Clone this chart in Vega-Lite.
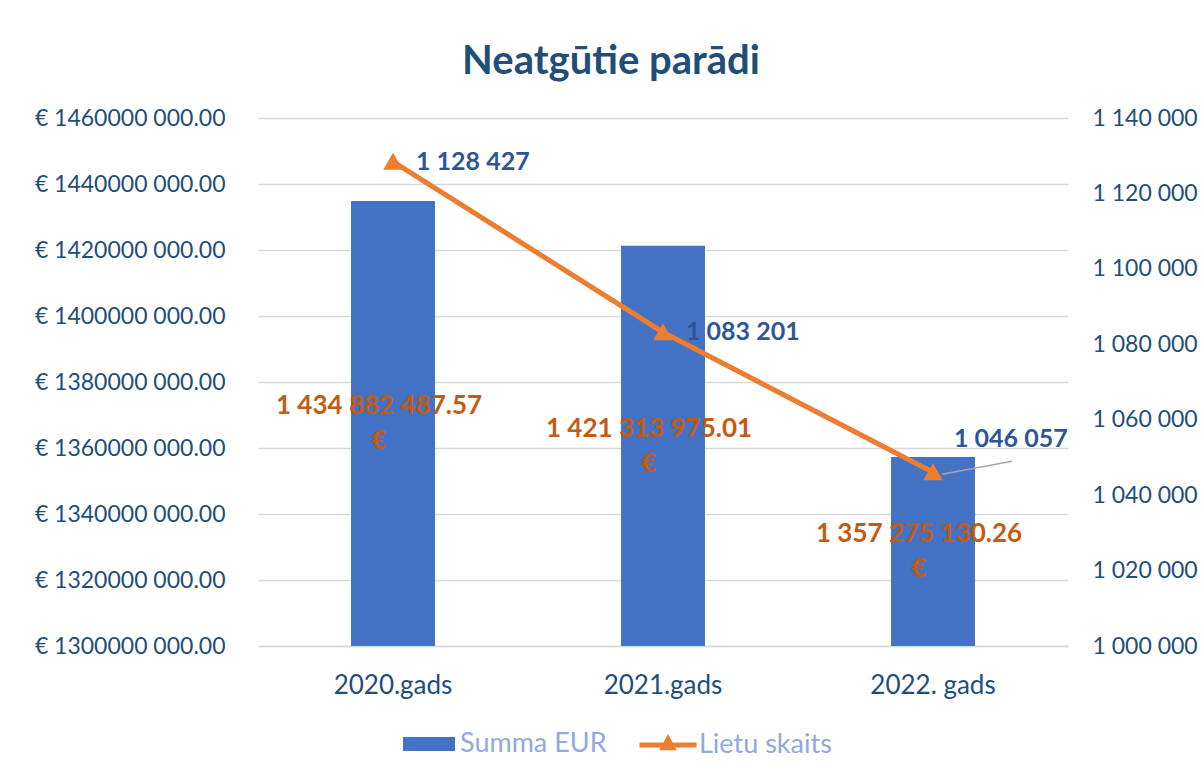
{
  "$schema": "https://vega.github.io/schema/vega-lite/v6.json",
  "width": 810,
  "height": 528,
  "autosize": {"type": "none"},
  "padding": {"left": 258, "top": 118, "right": 135, "bottom": 132},
  "background": "white",
  "config": {
    "font": "Lato",
    "view": {"stroke": null},
    "locale": {"number": {"decimal": ".", "thousands": " ", "grouping": [3], "currency": ["", ""]}}
  },
  "title": {
    "text": "Neatgūtie parādi",
    "fontSize": 40,
    "fontWeight": "bold",
    "color": "#1F4E79",
    "font": "Lato",
    "anchor": "middle",
    "dx": -52,
    "offset": 25
  },
  "data": {
    "values": [
      {"gads": "2020.gads", "summa": 1434882487.57, "lietas": 1128427},
      {"gads": "2021.gads", "summa": 1421313975.01, "lietas": 1083201},
      {"gads": "2022. gads", "summa": 1357275130.26, "lietas": 1046057}
    ]
  },
  "encoding": {
    "x": {
      "field": "gads",
      "type": "nominal",
      "sort": null,
      "scale": {"paddingInner": 0, "paddingOuter": 0},
      "axis": {
        "title": null,
        "labelAngle": 0,
        "labelFontSize": 26,
        "labelColor": "#1F4E79",
        "labelPadding": 26,
        "ticks": false,
        "domain": true,
        "domainColor": "#D9D9D9",
        "domainWidth": 1.5
      }
    }
  },
  "layer": [
    {
      "layer": [
        {
          "mark": {"type": "bar", "width": {"band": 0.311}, "clip": true},
          "encoding": {
            "y": {
              "field": "summa",
              "type": "quantitative",
              "scale": {"domain": [1300000000, 1460000000], "zero": false, "nice": false},
              "axis": {
                "title": null,
                "orient": "left",
                "values": [1300000000, 1320000000, 1340000000, 1360000000, 1380000000, 1400000000, 1420000000, 1440000000, 1460000000],
                "labelExpr": "'€ ' + format(datum.value / 1000, 'd') + ' 000.00'",
                "labelFontSize": 23,
                "labelLimit": 400,
                "labelColor": "#1F4E79",
                "labelPadding": 33,
                "ticks": false,
                "domain": false,
                "grid": true,
                "gridColor": "#D9D9D9",
                "gridWidth": 1.5
              }
            },
            "y2": {"datum": 1300000000},
            "fill": {
              "datum": "Summa EUR",
              "type": "nominal",
              "scale": {"domain": ["Summa EUR"], "range": ["#4472C4"]},
              "legend": {
                "orient": "none",
                "legendX": 145,
                "legendY": 600,
                "title": null,
                "symbolType": "M-1,-0.27H1V0.27H-1Z",
                "symbolSize": 2704,
                "symbolStrokeWidth": 0,
                "labelFontSize": 27,
                "labelColor": "#8FAADC",
                "labelOffset": 5,
                "padding": 0
              }
            }
          }
        },
        {
          "transform": [
            {"calculate": "(datum.summa + 1300000000) / 2", "as": "mid"},
            {"calculate": "[format(datum.summa, ',.2f'), '€']", "as": "lbl"}
          ],
          "mark": {
            "type": "text",
            "fontSize": 26,
            "fontWeight": "bold",
            "color": "#C55A11",
            "dx": -14,
            "dy": -17,
            "lineHeight": 35,
            "align": "center",
            "baseline": "middle"
          },
          "encoding": {
            "y": {
              "field": "mid",
              "type": "quantitative",
              "scale": {"domain": [1300000000, 1460000000], "zero": false, "nice": false},
              "axis": {
                "title": null,
                "orient": "left",
                "values": [1300000000, 1320000000, 1340000000, 1360000000, 1380000000, 1400000000, 1420000000, 1440000000, 1460000000],
                "labelExpr": "'€ ' + format(datum.value / 1000, 'd') + ' 000.00'",
                "labelFontSize": 23,
                "labelLimit": 400,
                "labelColor": "#1F4E79",
                "labelPadding": 33,
                "ticks": false,
                "domain": false,
                "grid": true,
                "gridColor": "#D9D9D9",
                "gridWidth": 1.5
              }
            },
            "text": {"field": "lbl"}
          }
        }
      ]
    },
    {
      "layer": [
        {
          "mark": {
            "type": "line",
            "strokeWidth": 5,
            "point": {"shape": "triangle-up", "filled": true, "size": 260, "color": "#ED7D31"}
          },
          "encoding": {
            "y": {
              "field": "lietas",
              "type": "quantitative",
              "scale": {"domain": [1000000, 1140000], "zero": false, "nice": false},
              "axis": {
                "title": null,
                "orient": "right",
                "values": [1000000, 1020000, 1040000, 1060000, 1080000, 1100000, 1120000, 1140000],
                "format": ",d",
                "labelFontSize": 23,
                "labelColor": "#1F4E79",
                "labelPadding": 24,
                "ticks": false,
                "domain": false,
                "grid": false
              }
            },
            "stroke": {
              "datum": "Lietu skaits",
              "type": "nominal",
              "scale": {"domain": ["Lietu skaits"], "range": ["#ED7D31"]},
              "legend": {
                "orient": "none",
                "legendX": 379,
                "legendY": 596,
                "title": null,
                "symbolType": "M-1,0H1M0,-0.2L0.16,0.1H-0.16Z",
                "symbolSize": 3249,
                "symbolStrokeWidth": 5,
                "symbolFillColor": "#ED7D31",
                "labelFontSize": 27,
                "labelColor": "#8FAADC",
                "labelOffset": 0,
                "padding": 0
              }
            }
          }
        },
        {
          "transform": [{"filter": "datum.gads != '2022. gads'"}],
          "mark": {
            "type": "text",
            "fontSize": 25,
            "fontWeight": "bold",
            "color": "#2F5597",
            "align": "left",
            "baseline": "middle",
            "dx": 23
          },
          "encoding": {
            "y": {"field": "lietas", "type": "quantitative", "scale": {"domain": [1000000, 1140000], "zero": false, "nice": false}},
            "text": {"field": "lietas", "type": "quantitative", "format": ",d"}
          }
        },
        {
          "transform": [{"filter": "datum.gads == '2022. gads'"}],
          "mark": {"type": "rule", "color": "#A6A6A6", "strokeWidth": 1.5, "xOffset": 9, "yOffset": 2, "x2Offset": 79, "y2Offset": -11},
          "encoding": {
            "y": {"field": "lietas", "type": "quantitative", "scale": {"domain": [1000000, 1140000], "zero": false, "nice": false}},
            "y2": {"field": "lietas"},
            "x2": {"field": "gads"}
          }
        },
        {
          "transform": [{"filter": "datum.gads == '2022. gads'"}],
          "mark": {
            "type": "text",
            "fontSize": 25,
            "fontWeight": "bold",
            "color": "#2F5597",
            "align": "left",
            "baseline": "middle",
            "dx": 21,
            "dy": -33
          },
          "encoding": {
            "y": {"field": "lietas", "type": "quantitative", "scale": {"domain": [1000000, 1140000], "zero": false, "nice": false}},
            "text": {"field": "lietas", "type": "quantitative", "format": ",d"}
          }
        }
      ]
    }
  ],
  "resolve": {"scale": {"y": "independent"}}
}
